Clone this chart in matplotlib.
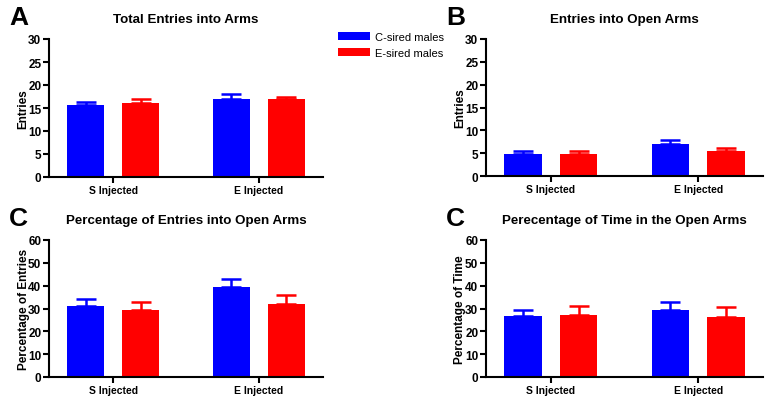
import numpy as np
import matplotlib.pyplot as plt
from matplotlib.patches import Patch

plt.rcParams['font.family'] = ['Liberation Sans', 'DejaVu Sans']

groups = ["S Injected", "E Injected"]
series = ["C-sired males", "E-sired males"]
colors = ["#0000ff", "#ff0000"]

# means and upper error (mean + SEM)
total_mean = [[15.6, 16.9], [16.05, 16.9]]
total_err = [[0.8, 1.1], [0.95, 0.55]]
open_mean = [[4.9, 6.9], [4.9, 5.4]]
open_err = [[0.6, 0.9], [0.6, 0.7]]
pct_ent_mean = [[30.9, 39.4], [29.5, 32.0]]
pct_ent_err = [[3.2, 3.4], [3.3, 3.8]]
pct_time_mean = [[26.9, 29.3], [27.1, 26.3]]
pct_time_err = [[2.6, 3.5], [3.8, 4.4]]

panels = [
    ("A", "Total Entries into Arms", "Entries", total_mean, total_err, 30, 5),
    ("B", "Entries into Open Arms", "Entries", open_mean, open_err, 30, 5),
    ("C", "Percentage of Entries into Open Arms", "Percentage of Entries", pct_ent_mean, pct_ent_err, 60, 10),
    ("C", "Perecentage of Time in the Open Arms", "Percentage of Time", pct_time_mean, pct_time_err, 60, 10),
]

W, H = 769, 402
fig = plt.figure(figsize=(W / 100, H / 100), dpi=100)

# axes boxes in pixels: left, top, right, bottom
boxes = [(49, 40, 323, 178), (486, 40, 763, 177), (49, 241, 323, 378), (486, 241, 763, 378)]

x = np.arange(len(groups))
bw = 0.253
off = 0.188

for (letter, title, ylabel, mean, err, ymax, step), (l, t, r, b) in zip(panels, boxes):
    ax = fig.add_axes([l / W, (H - b) / H, (r - l) / W, (b - t) / H])
    for i in range(2):
        pos = x + (2 * i - 1) * off
        ax.bar(pos, mean[i], width=bw, color=colors[i], linewidth=0)
        ax.errorbar(pos, mean[i], yerr=[np.zeros(2), err[i]], fmt="none",
                    ecolor=colors[i], elinewidth=1.8, capsize=7.2, capthick=1.8)
    ax.set_xlim(-0.44, 1.44)
    ax.set_ylim(0, ymax)
    ax.set_yticks(np.arange(0, ymax + 1, step))
    ax.set_xticks(x)
    ax.set_xticklabels(groups, fontweight="bold", fontsize=7.5)
    for lab in ax.get_yticklabels():
        lab.set_fontweight("bold")
        lab.set_fontsize(8.5)
    ax.set_ylabel(ylabel, fontweight="bold", fontsize=8.5, labelpad=-1)
    ax.set_title(title, fontweight="bold", fontsize=9.6, pad=12)
    for s in ["top", "right"]:
        ax.spines[s].set_visible(False)
    for s in ["left", "bottom"]:
        ax.spines[s].set_linewidth(1.5)
    ax.tick_params(width=1.5, length=4, pad=1.5)
    ax.text(l / W - 0.052, (H - t + 34) / H, letter, transform=fig.transFigure,
            fontsize=19, fontweight="bold", va="top", ha="left")

handles = [Patch(facecolor=c, label=s) for c, s in zip(colors, series)]
fig.legend(handles=handles, loc="upper left", bbox_to_anchor=(328 / W, 1 - 23 / H),
           frameon=False, fontsize=8, handlelength=2.9, handleheight=0.75,
           handletextpad=0.4, labelspacing=0.55)

fig.savefig("out.png", dpi=100)
